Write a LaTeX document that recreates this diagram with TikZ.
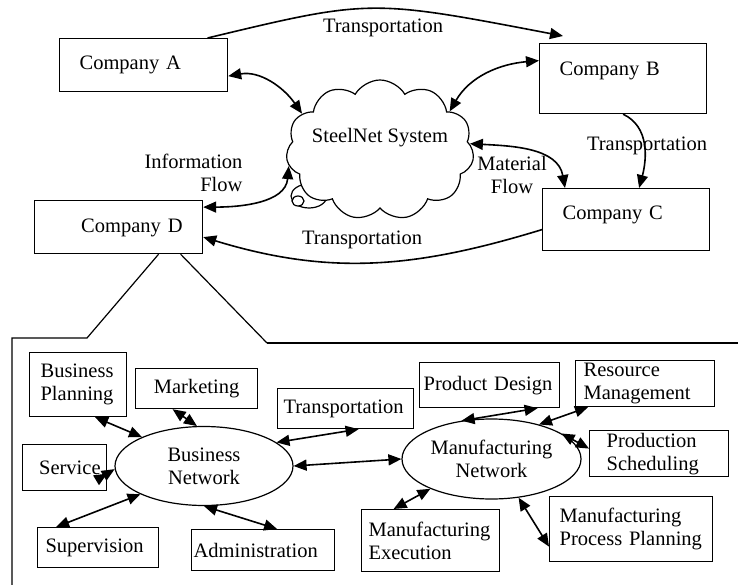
\documentclass[tikz,border=0pt]{standalone}
\usepackage{fontspec}
\setmainfont{Liberation Serif}
\usetikzlibrary{arrows.meta,shapes.geometric,shapes.symbols}

\tikzset{
	company/.style={draw, line width=1.2pt, anchor=north west, align=left, inner xsep=20pt, inner ysep=0pt},
	netbox/.style={draw, line width=1.2pt, anchor=north west, align=left, inner ysep=0pt},
	network/.style={draw, line width=1.2pt, ellipse, align=center, inner sep=0pt},
	flow/.style={{Triangle[length=13pt,width=11pt]}-{Triangle[length=13pt,width=11pt]}, line width=1.6pt},
	flowone/.style={-{Triangle[length=13pt,width=11pt]}, line width=1.6pt},
}

\begin{document}
\begin{tikzpicture}[x=1pt, y=-1pt, font=\fontsize{20.5}{23}\selectfont]
				\useasboundingbox (0,0) rectangle (738,585);
				%draw cloud with its small bubble
				\draw[line width=1.2pt, fill=white] (309,196) ellipse [x radius=18, y radius=12];
				\draw[line width=1.2pt, fill=white] (298,201) ellipse [x radius=6, y radius=5];
				\node[cloud, draw, line width=1.2pt, fill=white, cloud puffs=11, cloud puff arc=120, aspect=1.5, minimum width=188pt, minimum height=140pt, inner sep=0pt, text height=0pt, text depth=0pt] (steelnet) at (380,150) {\makebox[0pt]{\raisebox{7pt}{SteelNet System}}};
				%draw companies
				\node[company, text width=128pt, text height=30.5pt, text depth=22.5pt] (compA) at (59,38) {Company A};
				\node[company, text width=127pt, text height=31.5pt, text depth=38.5pt] (compB) at (539,43) {Company B};
				\node[company, text width=127pt, text height=30.5pt, text depth=31.5pt] (compC) at (542,188) {Company C};
				\node[company, text width=128pt, align=right, text height=31.5pt, text depth=21.5pt] (compD) at (34,200) {Company D};
				%draw links between companies
				\draw[flowone] ([xshift=64pt]compA.north) .. controls (370,-1) .. ([xshift=24pt,yshift=7pt]compB.north west);
				\draw[flow] ([yshift=-11pt]compA.east) to[out=10,in=125] (steelnet.155);
				\draw[flow] ([yshift=18pt]compB.west) to[out=185,in=60] (steelnet.29);
				\draw[flow] (steelnet.4) to[out=-3,in=100] ([xshift=23pt]compC.north west);
				\draw[flowone] (compB.south) to[out=-25,in=75] ([xshift=13pt]compC.north);
				\draw[flow] (steelnet.190) to[out=-95,in=0] ([yshift=20pt]compD.east);
				\draw[flowone] ([yshift=-10pt]compC.west) to[out=197,in=-17] ([yshift=-10pt]compD.east);
				%draw labels
				\node (lblAB) at (383,28) {Transportation};
				\node (lblBC) at (647,146) {Transportation};
				\node (lblCD) at (362,240) {Transportation};
				\node[align=right, anchor=east] (lblInfo) at (246,173) {Information\\Flow};
				\node[align=center] (lblMat) at (512,175) {Material\\Flow};
				%draw zoom frame
				\coordinate (frameL) at (87,338);
				\coordinate (frameR) at (267,343);
				\draw[line width=1.2pt] ([xshift=40pt]compD.south) -- (frameL) -- (12,338) -- (12,585);
				\draw[line width=1.2pt] ([xshift=62pt]compD.south) -- (frameR);
				\draw[line width=1.8pt] (frameR) -- (738,343);
				%draw networks
				\node[network, minimum width=178pt, minimum height=79pt] (bnet) at (204,466) {Business\\Network};
				\node[network, minimum width=179pt, minimum height=80pt] (mnet) at (491.5,459) {Manufacturing\\Network};
				%draw business boxes
				\node[netbox, inner xsep=11pt, text width=75pt, minimum height=64pt] (bplan) at (29,352) {Business\\Planning};
				\node[netbox, align=center, inner xsep=8pt, text width=106pt, minimum height=40pt] (market) at (135,368) {Marketing};
				\node[netbox, inner xsep=6pt, text width=124pt, minimum height=40pt] (transB) at (277,388) {Transportation};
				\node[netbox, align=right, inner xsep=6pt, text width=72pt, minimum height=46pt] (service) at (22,444) {Service};
				\node[netbox, inner xsep=8pt, text width=105pt, minimum height=40pt] (superv) at (37,527) {Supervision};
				\node[netbox, inner xsep=2pt, text width=139pt, minimum height=41pt] (admin) at (191,529) {Administration};
				%draw manufacturing boxes
				\node[netbox, inner xsep=4pt, text width=132pt, minimum height=45pt] (pdesign) at (419,362) {Product Design};
				\node[netbox, inner xsep=8pt, text width=123pt, minimum height=46pt] (resource) at (575,360) {Resource\\Management};
				\node[netbox, inner xsep=17pt, text width=105pt, minimum height=46pt] (psched) at (589,430) {Production\\Scheduling};
				\node[netbox, inner xsep=7pt, text width=124pt, minimum height=62pt] (mexec) at (361,509) {Manufacturing\\Execution};
				\node[netbox, inner xsep=10pt, text width=143pt, minimum height=65pt] (mpp) at (549,496) {Manufacturing\\Process Planning};
				%draw links in the networks
				\draw[flow] ([xshift=17pt]bplan.south) -- (bnet.155);
				\draw[flow] ([xshift=-24pt]market.south) -- (bnet.100);
				\draw[flow] ([yshift=-6pt]service.east) -- (bnet.182);
				\draw[flow] ([xshift=-42pt]superv.north) -- (bnet.204);
				\draw[flow] ([xshift=14pt]admin.north) -- (bnet.270);
				\draw[flow] ([xshift=13pt]transB.south) -- (bnet.18);
				\draw[flow] (bnet.east) -- (mnet.west);
				\draw[flow] ([xshift=48pt]pdesign.south) -- (mnet.128);
				\draw[flow] ([xshift=13pt]resource.south west) -- (mnet.36);
				\draw[flow] ([yshift=5pt]psched.west) -- (mnet.20);
				\draw[flow] ([xshift=-37pt]mexec.north) -- (mnet.206);
				\draw[flow] ([yshift=-17.5pt]mpp.west) -- (mnet.305);
\end{tikzpicture}
\end{document}
